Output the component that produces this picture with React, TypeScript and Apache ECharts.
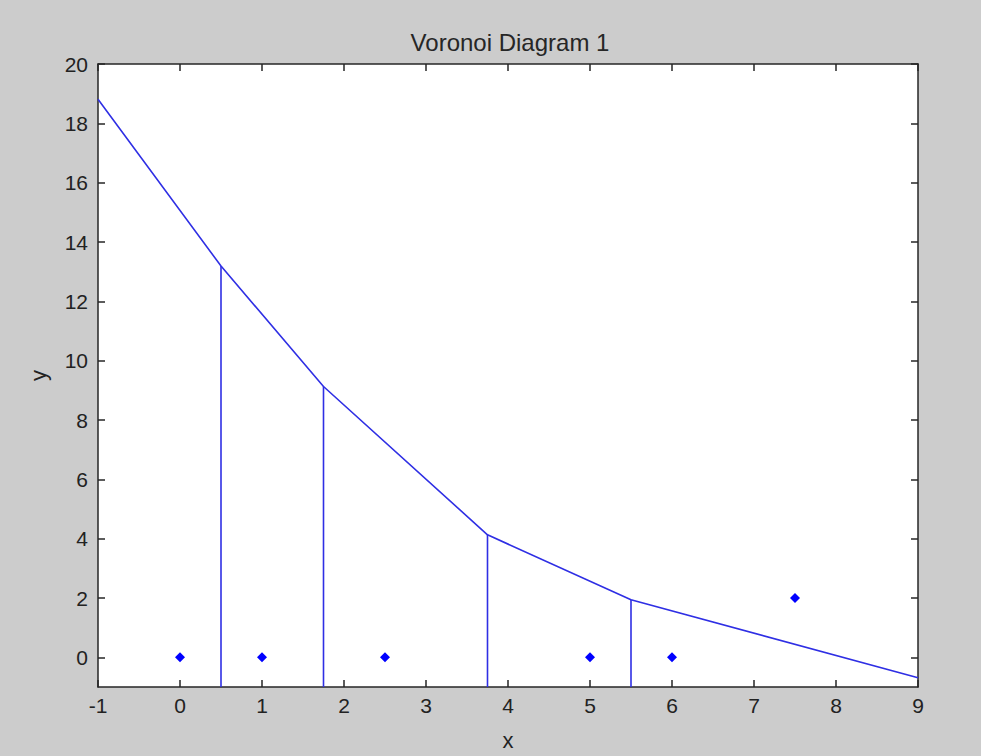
import React, { useEffect, useRef } from "react";
import * as echarts from "echarts";

const sitesX = [0, 1, 2.5, 5, 6, 7.5];
const sitesY = [0, 0, 0, 0, 0, 2];

const edgeX = [-1, 0.5, 1.75, 3.75, 5.5, 9];
const edgeY = [18.81, 13.19, 9.13, 4.13, 1.94, -0.69];

// vertical Voronoi edges: x position, top y, bottom y
const vertX = [0.5, 1.75, 3.75, 5.5];
const vertTop = [13.19, 9.13, 4.13, 1.94];
const vertBottom = [-1, -1, -1, -1];

const xTicks = [-1, 0, 1, 2, 3, 4, 5, 6, 7, 8, 9];
const yTicks = [0, 2, 4, 6, 8, 10, 12, 14, 16, 18, 20];

export default function App() {
  const ref = useRef<HTMLDivElement>(null);
  useEffect(() => {
    if (!ref.current) return;
    const chart = echarts.init(ref.current, null, { renderer: "svg" });
    const lineColor = "#2f2fe4";
    const axisCommon = {
      axisLine: { show: true, onZero: false, lineStyle: { color: "#262626", width: 1.5 } },
      axisTick: { show: true, inside: true, length: 7, lineStyle: { color: "#262626", width: 1.5 } },
      splitLine: { show: false },
    };
    const font = "Liberation Sans, Arial, sans-serif";
    const labelStyle = { color: "#222222", fontSize: 21, fontFamily: font };
    const series: any[] = [
      {
        type: "line",
        data: edgeX.map((x, i) => [x, edgeY[i]]),
        showSymbol: false,
        lineStyle: { color: lineColor, width: 1.6 },
        clip: true,
      },
      ...vertX.map((x, i) => ({
        type: "line",
        data: [
          [x, vertTop[i]],
          [x, vertBottom[i]],
        ],
        showSymbol: false,
        lineStyle: { color: lineColor, width: 1.6 },
        clip: true,
      })),
      {
        type: "scatter",
        data: sitesX.map((x, i) => [x, sitesY[i]]),
        symbol: "diamond",
        symbolSize: [10, 10],
        itemStyle: { color: "#0000ff", opacity: 1 },
      },
    ];
    chart.setOption({
      animation: false,
      backgroundColor: "#cccccc",
      title: {
        text: "Voronoi Diagram 1",
        left: 505,
        textAlign: "center",
        top: 25,
        textStyle: { fontSize: 24, fontWeight: "normal", color: "#262626", fontFamily: font },
      },
      grid: {
        left: 98,
        top: 64,
        right: 63,
        bottom: 68,
        show: true,
        backgroundColor: "#ffffff",
        borderWidth: 0,
      },
      xAxis: [
        {
          type: "value",
          position: "bottom",
          min: -1,
          max: 9,
          interval: 1,
          name: "x",
          nameLocation: "middle",
          nameGap: 42,
          nameTextStyle: { ...labelStyle, fontSize: 22 },
          axisLabel: { ...labelStyle, margin: 8, formatter: (v: number) => (xTicks.includes(v) ? String(v) : "") },
          ...axisCommon,
        },
        {
          type: "value",
          position: "top",
          min: -1,
          max: 9,
          interval: 1,
          axisLabel: { show: false },
          ...axisCommon,
        },
      ],
      yAxis: [
        {
          type: "value",
          position: "left",
          min: -1,
          max: 20,
          name: "y",
          nameLocation: "middle",
          nameGap: 49,
          nameTextStyle: { ...labelStyle, fontSize: 22 },
          axisLabel: { ...labelStyle, margin: 10, customValues: yTicks },
          ...axisCommon,
          axisTick: { ...axisCommon.axisTick, customValues: yTicks },
        },
        {
          type: "value",
          position: "right",
          min: -1,
          max: 20,
          axisLabel: { show: false, customValues: yTicks },
          ...axisCommon,
          axisTick: { ...axisCommon.axisTick, customValues: yTicks },
        },
      ],
      series,
    });
    return () => chart.dispose();
  }, []);
  return (
    <div
      ref={ref}
      style={{ position: "fixed", left: 0, top: 0, width: 981, height: 756 }}
    />
  );
}
